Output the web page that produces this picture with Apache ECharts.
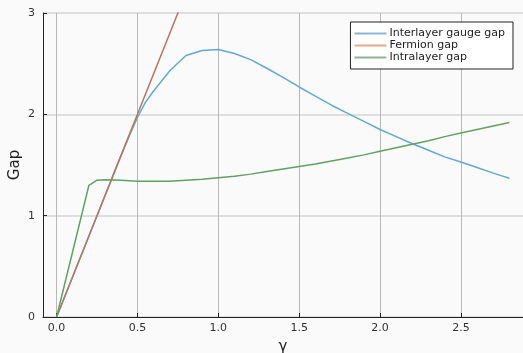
<!DOCTYPE html>
<html>
<head>
<meta charset="utf-8">
<script src="https://cdn.jsdelivr.net/npm/echarts@6/dist/echarts.min.js"></script>
<style>
  html, body { margin: 0; padding: 0; background: #fafafa; }
  #chart { width: 523px; height: 353px; }
</style>
</head>
<body>
<div id="chart"></div>
<script>
// gamma values and gaps
var gaugeX = [0, 0.1, 0.2, 0.3, 0.4, 0.45, 0.5, 0.55, 0.6, 0.7, 0.8, 0.9, 1.0, 1.1, 1.2, 1.3, 1.4, 1.5, 1.6, 1.7, 1.8, 1.9, 2.0, 2.1, 2.2, 2.3, 2.4, 2.5, 2.6, 2.7, 2.8];
var gaugeY = [0, 0.4, 0.8, 1.2, 1.6, 1.79, 1.97, 2.12, 2.23, 2.43, 2.58, 2.63, 2.64, 2.60, 2.54, 2.455, 2.365, 2.27, 2.18, 2.09, 2.01, 1.93, 1.85, 1.78, 1.71, 1.645, 1.58, 1.53, 1.475, 1.42, 1.37];

var fermionX = [0, 0.2, 0.4, 0.6, 0.8, 1.0];
var fermionY = [0, 0.8, 1.6, 2.4, 3.2, 4.0];

var intraX = [0, 0.2, 0.25, 0.3, 0.4, 0.5, 0.6, 0.7, 0.8, 0.9, 1.0, 1.1, 1.2, 1.3, 1.4, 1.5, 1.6, 1.7, 1.8, 1.9, 2.0, 2.1, 2.2, 2.3, 2.4, 2.5, 2.6, 2.7, 2.8];
var intraY = [0, 1.30, 1.35, 1.355, 1.35, 1.34, 1.34, 1.34, 1.35, 1.36, 1.375, 1.39, 1.41, 1.435, 1.46, 1.485, 1.51, 1.54, 1.57, 1.60, 1.635, 1.67, 1.705, 1.74, 1.78, 1.815, 1.85, 1.885, 1.92];

var xTicks = [0, 0.5, 1.0, 1.5, 2.0, 2.5];
var names = ['Interlayer gauge gap', 'Fermion gap', 'Intralayer gap'];
var colors = ['#64a8d8', '#b8765e', '#62a066'];
var legendColors = ['#8cb6d6', '#e8a68c', '#90b492'];

function pairs(xs, ys) {
    var out = [];
    for (var i = 0; i < xs.length; i++) {
        out.push([xs[i], ys[i]]);
    }
    return out;
}

var myChart = echarts.init(document.getElementById('chart'));
var font = 'DejaVu Sans';

var option = {
    backgroundColor: '#fafafa',
    animation: false,
    textStyle: { fontFamily: font },
    grid: { left: 43, right: 0, top: 13, bottom: 36, containLabel: false, outerBoundsMode: 'none' },
    legend: {
        right: 10,
        top: 22,
        orient: 'vertical',
        backgroundColor: '#ffffff',
        borderColor: '#222',
        borderWidth: 1,
        borderRadius: 0,
        padding: [6, 8, 6, 4],
        itemGap: 1,
        itemWidth: 32,
        itemHeight: 2,
        icon: 'rect',
        textStyle: { fontSize: 11, color: '#222', fontFamily: font, padding: [0, 0, 0, -2] },
        data: names.map(function (n, i) {
            return { name: n, itemStyle: { color: legendColors[i] } };
        })
    },
    xAxis: {
        type: 'value',
        min: -0.084,
        max: 2.884,
        name: 'γ',
        nameLocation: 'middle',
        nameGap: 23,
        nameMoveOverlap: false,
        nameTextStyle: { fontSize: 15, color: '#222', fontFamily: font },
        axisLine: { show: true, onZero: false, lineStyle: { color: '#222', width: 1 } },
        axisTick: { show: true, inside: true, length: 4, lineStyle: { color: '#222' }, customValues: xTicks },
        axisLabel: {
            fontSize: 11, color: '#333', margin: 6, customValues: xTicks,
            formatter: function (v) { return v.toFixed(1); }
        },
        splitLine: { show: true, lineStyle: { color: '#b8b8b8', width: 1 } }
    },
    yAxis: {
        type: 'value',
        min: 0,
        max: 3,
        interval: 1,
        name: 'Gap',
        nameLocation: 'middle',
        nameGap: 20,
        nameMoveOverlap: false,
        nameTextStyle: { fontSize: 15, color: '#222', fontFamily: font },
        axisLine: { show: true, onZero: false, lineStyle: { color: '#222', width: 1 } },
        axisTick: { show: true, inside: true, length: 4, lineStyle: { color: '#222' } },
        axisLabel: { fontSize: 11, color: '#333', margin: 8 },
        splitLine: { show: true, lineStyle: { color: '#d4d4d4', width: 1.5 } }
    },
    series: [
        { name: names[0], type: 'line', data: pairs(gaugeX, gaugeY), color: colors[0] },
        { name: names[1], type: 'line', data: pairs(fermionX, fermionY), color: colors[1] },
        { name: names[2], type: 'line', data: pairs(intraX, intraY), color: colors[2] }
    ].map(function (s) {
        s.showSymbol = false;
        s.symbol = 'none';
        s.clip = true;
        s.lineStyle = { width: 1.5 };
        s.emphasis = { disabled: true };
        return s;
    })
};

myChart.setOption(option, true);
</script>
</body>
</html>
